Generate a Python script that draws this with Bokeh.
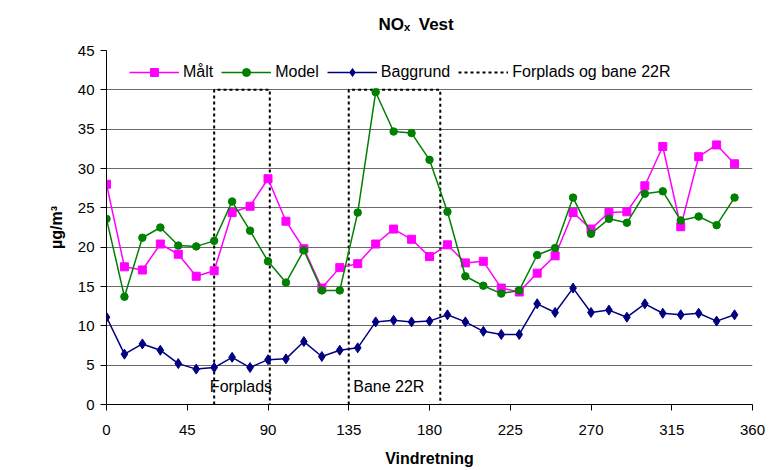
from bokeh.plotting import figure
from bokeh.models import Range1d, FixedTicker, Legend, LegendItem, ColumnDataSource
from bokeh.embed import file_html
from bokeh.resources import INLINE
from bokeh.core.properties import value

FONT = "Liberation Sans"

# ---- data ----
directions = [0, 10, 20, 30, 40, 50, 60, 70, 80, 90, 100, 110, 120, 130, 140, 150, 160, 170,
              180, 190, 200, 210, 220, 230, 240, 250, 260, 270, 280, 290, 300, 310, 320, 330, 340, 350]
maalt = [28.0, 17.5, 17.1, 20.4, 19.1, 16.3, 17.0, 24.4, 25.2, 28.7, 23.3, 19.8, 14.8, 17.4, 17.9, 20.4, 22.3, 21.0,
         18.8, 20.3, 18.0, 18.2, 14.8, 14.3, 16.7, 18.9, 24.4, 22.3, 24.4, 24.5, 27.8, 32.8, 22.6, 31.5, 33.0, 30.6]
model = [23.6, 13.7, 21.2, 22.5, 20.2, 20.1, 20.8, 25.8, 22.1, 18.2, 15.5, 19.6, 14.5, 14.5, 24.4, 39.7, 34.7, 34.5,
         31.1, 24.5, 16.3, 15.1, 14.1, 14.5, 19.0, 19.9, 26.3, 21.7, 23.6, 23.1, 26.8, 27.1, 23.4, 23.9, 22.8, 26.3]
baggrund = [11.1, 6.4, 7.7, 6.9, 5.2, 4.5, 4.7, 6.0, 4.7, 5.7, 5.8, 8.0, 6.1, 6.9, 7.2, 10.5, 10.7, 10.5,
            10.6, 11.4, 10.5, 9.3, 8.9, 8.9, 12.8, 11.7, 14.8, 11.7, 12.0, 11.1, 12.8, 11.6, 11.4, 11.6, 10.6, 11.4]

zone_names = ["Forplads", "Bane 22R"]
zone_start = [60, 135]
zone_end = [91, 186]
zone_top = [40, 40]
zone_label_x = [57.6, 137.5]
zone_label_y = [2.3, 2.3]

x_ticks = [0, 45, 90, 135, 180, 225, 270, 315, 360]
y_ticks = [0, 5, 10, 15, 20, 25, 30, 35, 40, 45]

# ---- figure ----
p = figure(width=770, height=470, output_backend="svg", toolbar_location=None,
           x_range=Range1d(0, 360), y_range=Range1d(0, 45),
           min_border_left=106, min_border_right=18, min_border_top=50, min_border_bottom=66)
p.outline_line_color = None
p.background_fill_color = "white"
p.border_fill_color = "white"
p.xgrid.visible = False
p.ygrid.ticker = FixedTicker(ticks=y_ticks[1:])
p.ygrid.grid_line_color = "#6a6a6a"
p.ygrid.grid_line_width = 1

# title
p.title.text = "NOₓ\u2002Vest"
p.title.text_font = FONT
p.title.text_font_size = "17px"
p.title.text_font_style = "bold"
p.title.text_color = "black"
p.title.align = "left"
p.title.vertical_align = "top"
p.title.offset = 272
p.title.standoff = 29

for ax, ticks in ((p.xaxis, x_ticks), (p.yaxis, y_ticks)):
    ax.ticker = FixedTicker(ticks=ticks)
    ax.axis_line_color = "black"
    ax.axis_line_width = 1
    ax.major_tick_line_color = "black"
    ax.major_tick_in = 0
    ax.major_tick_out = 6
    ax.minor_tick_line_color = None
    ax.major_label_text_font = FONT
    ax.major_label_text_font_size = "15px"
    ax.major_label_text_color = "black"
    ax.axis_label_text_font = FONT
    ax.axis_label_text_font_size = "16px"
    ax.axis_label_text_font_style = "bold"
    ax.axis_label_text_color = "black"

p.xaxis.axis_label = "Vindretning"
p.yaxis.axis_label = "µg/m³"
p.xaxis.major_label_standoff = 14
p.xaxis.axis_label_standoff = 12
p.yaxis.major_label_standoff = 6
p.yaxis.axis_label_standoff = 10

# zone boxes (dotted, open at the bottom)
zxs = [[s, s, e, e] for s, e in zip(zone_start, zone_end)]
zys = [[0, t, t, 0] for t in zone_top]
r_zone = p.multi_line(xs=zxs, ys=zys, line_color="black", line_width=2, line_dash="3 3")

p.text(x=zone_label_x, y=zone_label_y, text=zone_names, text_font=value(FONT),
       text_font_size="16px", text_baseline="middle", text_align="left", text_color="black")

src = ColumnDataSource(dict(x=directions, m=maalt, mo=model, b=baggrund))

r_m_l = p.line("x", "m", source=src, line_color="#FF00FF", line_width=1.5)
r_m_s = p.scatter("x", "m", source=src, marker="square", size=8, fill_color="#FF00FF", line_color="#FF00FF")
r_mo_l = p.line("x", "mo", source=src, line_color="#008000", line_width=1.5)
r_mo_s = p.scatter("x", "mo", source=src, marker="circle", size=7.5, fill_color="#008000", line_color="#008000")
r_b_l = p.line("x", "b", source=src, line_color="#000080", line_width=1.5)
r_b_s = p.scatter("x", "b", source=src, marker="diamond", size=10, fill_color="#000080", line_color="#000080")

legend = Legend(items=[
    LegendItem(label="Målt", renderers=[r_m_l, r_m_s]),
    LegendItem(label="Model", renderers=[r_mo_l, r_mo_s]),
    LegendItem(label="Baggrund", renderers=[r_b_l, r_b_s]),
    LegendItem(label="Forplads og bane 22R", renderers=[r_zone]),
], orientation="horizontal", location=(23, 322), padding=0, spacing=8,
    glyph_width=50, glyph_height=20, label_standoff=4,
    label_text_font=FONT, label_text_font_size="16px", label_text_color="black",
    border_line_color=None, background_fill_alpha=0)
p.add_layout(legend, "center")

open("out.html", "w").write(file_html(p, INLINE))
